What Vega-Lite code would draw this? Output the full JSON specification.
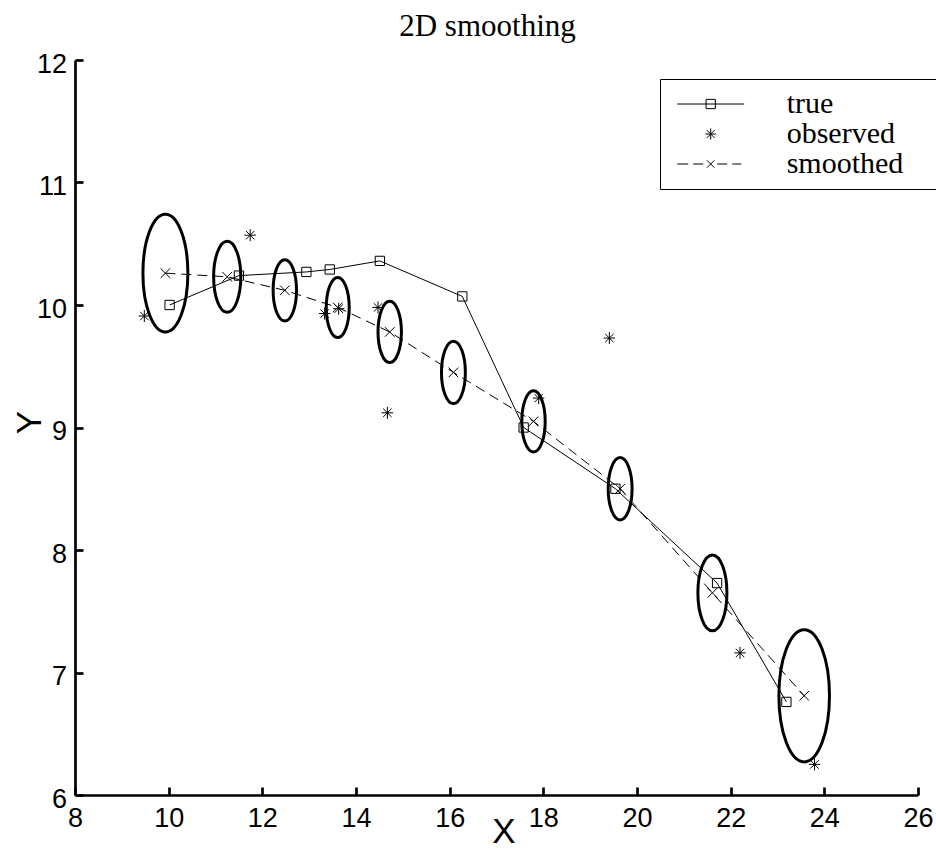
{
  "$schema": "https://vega.github.io/schema/vega-lite/v6.json",
  "width": 843,
  "height": 735,
  "autosize": {"type": "none"},
  "padding": {"left": 75, "top": 60, "right": 18, "bottom": 54},
  "background": "white",
  "config": {"view": {"stroke": null}},
  "title": {
    "text": "2D smoothing",
    "font": "Liberation Serif",
    "fontSize": 31,
    "fontWeight": "normal",
    "color": "black",
    "anchor": "middle",
    "frame": "group",
    "baseline": "alphabetic",
    "offset": -17,
    "dx": -9
  },
  "data": {
    "values": [
      {"series": "true", "t": 1, "x": 10.02, "y": 10.0},
      {"series": "true", "t": 2, "x": 11.5, "y": 10.24},
      {"series": "true", "t": 3, "x": 12.94, "y": 10.27},
      {"series": "true", "t": 4, "x": 13.44, "y": 10.29},
      {"series": "true", "t": 5, "x": 14.51, "y": 10.36},
      {"series": "true", "t": 6, "x": 16.27, "y": 10.07},
      {"series": "true", "t": 7, "x": 17.58, "y": 9.0},
      {"series": "true", "t": 8, "x": 19.54, "y": 8.5},
      {"series": "true", "t": 9, "x": 21.71, "y": 7.73},
      {"series": "true", "t": 10, "x": 23.19, "y": 6.76},
      {"series": "observed", "t": 1, "x": 9.48, "y": 9.91},
      {"series": "observed", "t": 2, "x": 11.74, "y": 10.57},
      {"series": "observed", "t": 3, "x": 13.33, "y": 9.93},
      {"series": "observed", "t": 4, "x": 13.63, "y": 9.97},
      {"series": "observed", "t": 5, "x": 14.47, "y": 9.98},
      {"series": "observed", "t": 6, "x": 14.67, "y": 9.12},
      {"series": "observed", "t": 7, "x": 17.9, "y": 9.24},
      {"series": "observed", "t": 8, "x": 19.41, "y": 9.73},
      {"series": "observed", "t": 9, "x": 22.2, "y": 7.16},
      {"series": "observed", "t": 10, "x": 23.79, "y": 6.25},
      {"series": "smoothed", "t": 1, "x": 9.93, "y": 10.26, "sd": 0.48},
      {"series": "smoothed", "t": 2, "x": 11.25, "y": 10.23, "sd": 0.29},
      {"series": "smoothed", "t": 3, "x": 12.48, "y": 10.12, "sd": 0.25},
      {"series": "smoothed", "t": 4, "x": 13.61, "y": 9.98, "sd": 0.245},
      {"series": "smoothed", "t": 5, "x": 14.72, "y": 9.78, "sd": 0.25},
      {"series": "smoothed", "t": 6, "x": 16.08, "y": 9.45, "sd": 0.255},
      {"series": "smoothed", "t": 7, "x": 17.79, "y": 9.05, "sd": 0.25},
      {"series": "smoothed", "t": 8, "x": 19.64, "y": 8.5, "sd": 0.255},
      {"series": "smoothed", "t": 9, "x": 21.61, "y": 7.65, "sd": 0.31},
      {"series": "smoothed", "t": 10, "x": 23.57, "y": 6.81, "sd": 0.54}
    ]
  },
  "resolve": {"scale": {"shape": "independent"}},
  "encoding": {
    "x": {
      "field": "x",
      "type": "quantitative",
      "scale": {"domain": [8, 26], "nice": false, "zero": false},
      "axis": {
        "values": [8, 10, 12, 14, 16, 18, 20, 22, 24, 26],
        "format": "d",
        "grid": false,
        "domainColor": "black",
        "domainWidth": 2.7,
        "tickColor": "black",
        "tickWidth": 2.7,
        "tickSize": -8,
        "labelPadding": 18.7,
        "labelFont": "Liberation Sans",
        "labelFontSize": 27,
        "labelColor": "black",
        "labelFlush": false,
        "labelOverlap": false,
        "title": "X",
        "titleFont": "Liberation Sans",
        "titleFontSize": 35,
        "titleFontWeight": "normal",
        "titleColor": "black",
        "titleX": 428.5,
        "titleY": 19,
        "titleBaseline": "top",
        "titleAlign": "center"
      }
    },
    "y": {
      "field": "y",
      "type": "quantitative",
      "scale": {"domain": [6, 12], "nice": false, "zero": false},
      "axis": {
        "values": [6, 7, 8, 9, 10, 11, 12],
        "format": "d",
        "grid": false,
        "domainColor": "black",
        "domainWidth": 2.7,
        "tickColor": "black",
        "tickWidth": 2.7,
        "tickSize": -8,
        "labelPadding": 16.5,
        "labelOffset": 4,
        "labelFont": "Liberation Sans",
        "labelFontSize": 27,
        "labelColor": "black",
        "labelFlush": false,
        "labelOverlap": false,
        "title": "Y",
        "titleFont": "Liberation Sans",
        "titleFontSize": 35,
        "titleFontWeight": "normal",
        "titleColor": "black",
        "titleAngle": -90,
        "titleX": -46,
        "titleY": 362,
        "titleBaseline": "middle",
        "titleAlign": "center"
      }
    }
  },
  "layer": [
    {
      "transform": [{"filter": "datum.series === 'smoothed'"}],
      "mark": {
        "type": "point",
        "shape": "M0,-1C0.2111,-1,0.3823,-0.5523,0.3823,0C0.3823,0.5523,0.2111,1,0,1C-0.2111,1,-0.3823,0.5523,-0.3823,0C-0.3823,-0.5523,-0.2111,-1,0,-1Z",
        "filled": false,
        "stroke": "black",
        "strokeWidth": 3,
        "opacity": 1
      },
      "encoding": {
        "size": {
          "field": "sd",
          "type": "quantitative",
          "scale": {"type": "pow", "exponent": 2, "domain": [0, 1], "range": [0, 60025]},
          "legend": null
        }
      }
    },
    {
      "transform": [{"filter": "datum.series === 'true'"}],
      "mark": {"type": "line", "color": "black", "strokeWidth": 1},
      "encoding": {"order": {"field": "t", "type": "quantitative"}}
    },
    {
      "transform": [{"filter": "datum.series === 'smoothed'"}],
      "mark": {"type": "line", "color": "black", "strokeWidth": 1, "strokeDash": [10, 6]},
      "encoding": {"order": {"field": "t", "type": "quantitative"}}
    },
    {
      "mark": {"type": "point", "filled": false, "size": 144, "strokeWidth": 1, "opacity": 1, "color": "black"},
      "encoding": {
        "shape": {
          "field": "series",
          "type": "nominal",
          "scale": {
            "domain": ["true", "observed", "smoothed"],
            "range": [
              "M-0.775,-0.775L0.775,-0.775L0.775,0.775L-0.775,0.775Z",
              "M0,-1L0,1M-0.95,0L0.95,0M-0.7,-0.7L0.7,0.7M-0.7,0.7L0.7,-0.7",
              "M-0.8,-0.8L0.8,0.8M-0.8,0.8L0.8,-0.8"
            ]
          },
          "legend": null
        }
      }
    },
    {
      "mark": {"type": "point", "filled": false, "size": 0, "strokeWidth": 1, "opacity": 0, "color": "black"},
      "encoding": {
        "shape": {
          "field": "series",
          "type": "nominal",
          "scale": {
            "domain": ["true", "observed", "smoothed"],
            "range": [
              "M-6.7,0L6.7,0M-0.93,-0.93L0.93,-0.93L0.93,0.93L-0.93,0.93ZM46,0",
              "M0,-1.1L0,1.1M-1.05,0L1.05,0M-0.78,-0.78L0.78,0.78M-0.78,0.78L0.78,-0.78M46,0",
              "M-6.7,0L-4.5,0M-3.5,0L-1.5,0M1.3,0L3.3,0M4.3,0L6.1,0M-0.74,-0.74L0.74,0.74M-0.74,0.74L0.74,-0.74M46,0"
            ]
          },
          "legend": {
            "title": null,
            "orient": "none",
            "legendX": 585,
            "legendY": 19,
            "padding": 10,
            "strokeColor": "black",
            "fillColor": "white",
            "cornerRadius": 0,
            "labelFont": "Liberation Serif",
            "labelFontSize": 30,
            "labelColor": "black",
            "labelOffset": 61,
            "symbolOffset": 25.7,
            "rowPadding": 0,
            "symbolSize": 100,
            "symbolStrokeWidth": 1,
            "symbolStrokeColor": "black",
            "symbolFillColor": "transparent",
            "symbolOpacity": 1
          }
        }
      }
    }
  ]
}
